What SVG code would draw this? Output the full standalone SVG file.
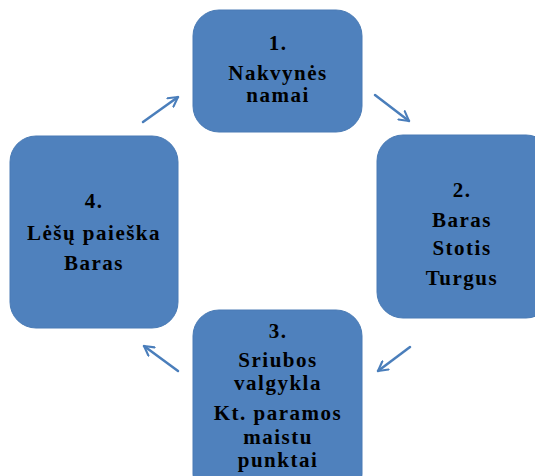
<svg xmlns="http://www.w3.org/2000/svg" width="535" height="476" viewBox="0 0 535 476">
<style>
.box{fill:#4f81bd;stroke:#4a7bb5;stroke-width:1}
.t{font-family:"Liberation Serif","Times New Roman",serif;font-weight:bold;font-size:21px;fill:#000;text-anchor:middle;letter-spacing:1.5px}
.c{fill:none;stroke:#4a7ebb;stroke-width:2.5;stroke-linecap:round}
</style>
<defs>
<marker id="ah" viewBox="0 0 12 12" refX="10" refY="6" markerWidth="5" markerHeight="5" orient="auto" markerUnits="strokeWidth">
<polyline points="1,1 10,6 1,11" fill="none" stroke="#4a7ebb" stroke-width="2" stroke-linecap="round" stroke-linejoin="round"/>
</marker>
</defs>
<g id="node1">
<rect class="box" x="193" y="10" width="169" height="122" rx="26"/>
<text class="t" x="278" y="50">1.</text>
<text class="t" x="278" y="80">Nakvynės</text>
<text class="t" x="278" y="102">namai</text>
</g>
<g id="node2">
<rect class="box" x="377" y="135" width="175" height="183" rx="26"/>
<text class="t" x="462" y="197">2.</text>
<text class="t" x="462" y="227">Baras</text>
<text class="t" x="462" y="255">Stotis</text>
<text class="t" x="462" y="285">Turgus</text>
</g>
<g id="node3">
<rect class="box" x="193" y="310" width="169" height="190" rx="26"/>
<text class="t" x="278" y="338">3.</text>
<text class="t" x="278" y="367">Sriubos</text>
<text class="t" x="278" y="390">valgykla</text>
<text class="t" x="278" y="420">Kt. paramos</text>
<text class="t" x="278" y="444">maistu</text>
<text class="t" x="278" y="467">punktai</text>
</g>
<g id="node4">
<rect class="box" x="10" y="136" width="168" height="192" rx="26"/>
<text class="t" x="94" y="208">4.</text>
<text class="t" x="94" y="240">Lėšų paieška</text>
<text class="t" x="94" y="270">Baras</text>
</g>
<g id="connectors">
<line class="c" x1="143" y1="122" x2="178" y2="97" marker-end="url(#ah)"/>
<line class="c" x1="375" y1="95" x2="409" y2="121" marker-end="url(#ah)"/>
<line class="c" x1="410" y1="347" x2="378" y2="371" marker-end="url(#ah)"/>
<line class="c" x1="178" y1="371" x2="144" y2="346" marker-end="url(#ah)"/>
</g>
</svg>
